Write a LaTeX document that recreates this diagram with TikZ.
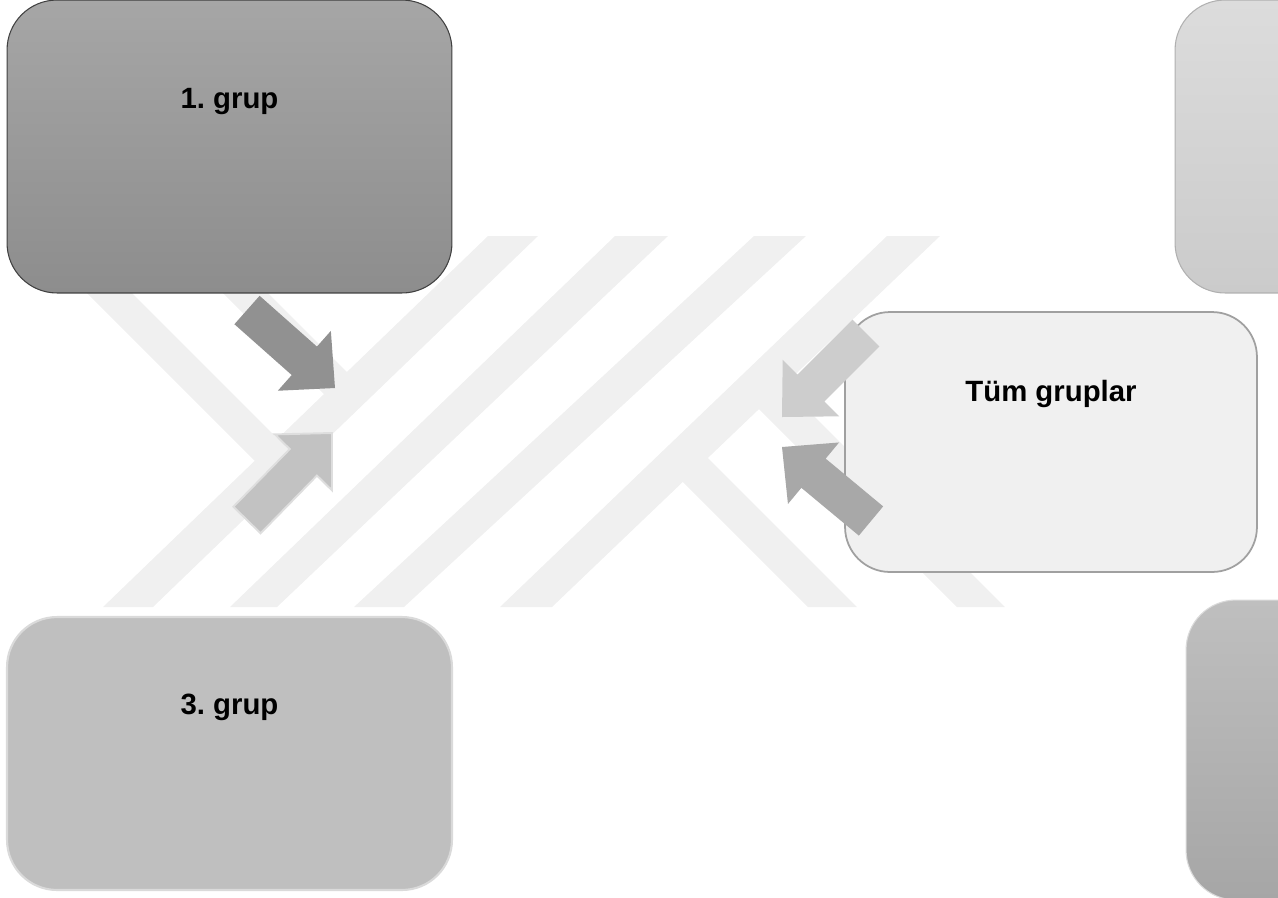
\documentclass[tikz,border=0pt]{standalone}
\usepackage{fontspec}
\setmainfont{Liberation Sans}
\usetikzlibrary{calc}

\definecolor{wmark}{RGB}{240,240,240}
\definecolor{boxAtop}{RGB}{166,166,166}
\definecolor{boxAbot}{RGB}{141,141,141}
\definecolor{boxAline}{RGB}{64,64,64}
\definecolor{boxBtop}{RGB}{220,220,220}
\definecolor{boxBbot}{RGB}{203,203,203}
\definecolor{boxBline}{RGB}{176,176,176}
\definecolor{boxCfill}{RGB}{240,240,240}
\definecolor{boxCline}{RGB}{160,160,160}
\definecolor{boxDfill}{RGB}{191,191,191}
\definecolor{boxDline}{RGB}{218,218,218}
\definecolor{boxEtop}{RGB}{191,191,191}
\definecolor{boxEbot}{RGB}{166,166,166}
\definecolor{arrdark}{RGB}{145,145,145}
\definecolor{arrmid}{RGB}{194,194,194}
\definecolor{arredge}{RGB}{222,222,222}
\definecolor{arrpale}{RGB}{205,205,205}
\definecolor{arrgrey}{RGB}{168,168,168}

% block arrow: #1 style, #2 tail, #3 tip
\newcommand{\blockarrow}[3]{%
  \coordinate (hb) at ($(#3)!0.82cm!(#2)$);
  \path[#1] ($(#2)!0.38cm!90:(#3)$) -- ($(hb)!0.38cm!90:(#3)$)
    -- ($(hb)!0.8cm!90:(#3)$) -- (#3) -- ($(hb)!0.8cm!-90:(#3)$)
    -- ($(hb)!0.38cm!-90:(#3)$) -- ($(#2)!0.38cm!-90:(#3)$) -- cycle;}

\tikzset{
  grpbox/.style={rectangle, rounded corners=1cm, minimum width=8.9cm,
    minimum height=5.86cm, line width=0.6pt, inner sep=0pt},
  grptext/.style={font=\fontsize{16.7}{20}\selectfont\bfseries\frenchspacing,
    anchor=base, inner sep=0pt},
  wmstripe/.style={fill=wmark},
}

\begin{document}
\begin{tikzpicture}[x=0.02cm, y=-0.02cm]
	\useasboundingbox (0,0) rectangle (1278,897);
	\clip (0,0) rectangle (1278,897);
	
	% Watermark
	\fill[wmstripe] (488,236) -- (538,236) -- (153,607) -- (103,607) -- cycle;
	\fill[wmstripe] (615,236) -- (668,236) -- (277,607) -- (230,607) -- cycle;
	\fill[wmstripe] (754,236) -- (806,236) -- (404,607) -- (354,607) -- cycle;
	\fill[wmstripe] (887,236) -- (940,236) -- (552,607) -- (500,607) -- cycle;
	\fill[wmstripe] (30,236) -- (75,236) -- (293,454) -- (270,476) -- cycle;
	\fill[wmstripe] (166,236) -- (211,236) -- (362,387) -- (339,409) -- cycle;
	\fill[wmstripe] (769,371) -- (1005,607) -- (957,607) -- (744,394) -- cycle;
	\fill[wmstripe] (693,443) -- (857,607) -- (808,607) -- (668,467) -- cycle;
	
	% Group boxes
	\node[grpbox, draw=boxAline, top color=boxAtop, bottom color=boxAbot] (g1) at (229.5,146.5) {};
	\node[grpbox, draw=boxBline, top color=boxBtop, bottom color=boxBbot] (g2) at (1397.5,146.5) {};
	\node[grpbox, draw=boxCline, fill=boxCfill, line width=1pt, rounded corners=0.9cm,
		minimum width=8.24cm, minimum height=5.2cm] (all) at (1051,442) {};
	\node[grpbox, draw=boxDline, fill=boxDfill, line width=1.2pt, minimum height=5.46cm] (g3) at (229.5,753.5) {};
	\node[grpbox, draw=boxDline, top color=boxEtop, bottom color=boxEbot, minimum height=6cm] (g4) at (1408.5,750) {};
	
	% Labels
	\node[grptext] (t1) at ($(g1.north)+(0,109)$) {1. grup};
	\node[grptext] (tall) at ($(all.north)+(0,90)$) {Tüm gruplar};
	\node[grptext] (t3) at ($(g3.north)+(0,99)$) {3. grup};
	
	% Arrows
	\coordinate (a1s) at (247,310); \coordinate (a1e) at (335,388);
	\coordinate (a2s) at (247,520); \coordinate (a2e) at (332,433);
	\coordinate (a3s) at (866,333); \coordinate (a3e) at (782,417);
	\coordinate (a4s) at (871,521); \coordinate (a4e) at (782,447);
	\blockarrow{fill=arrdark}{a1s}{a1e}
	\blockarrow{fill=arrmid, draw=arredge, line width=1.1pt}{a2s}{a2e}
	\blockarrow{fill=arrpale}{a3s}{a3e}
	\blockarrow{fill=arrgrey}{a4s}{a4e}
\end{tikzpicture}
\end{document}
